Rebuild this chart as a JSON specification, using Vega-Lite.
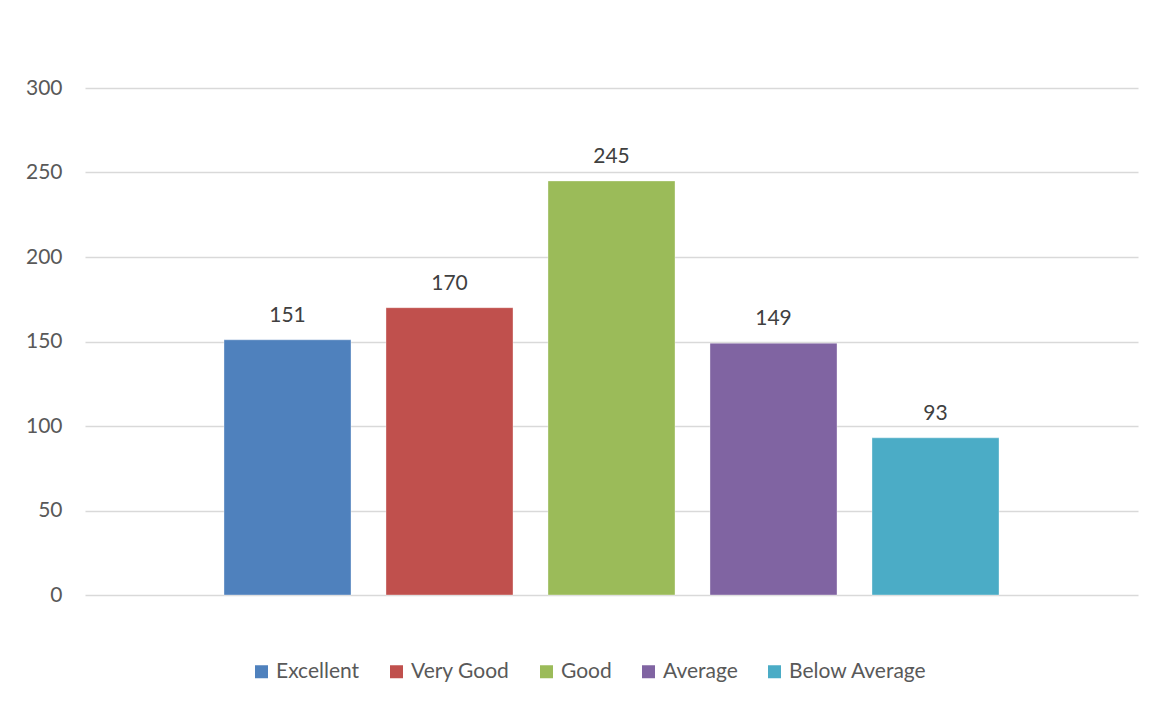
{
  "$schema": "https://vega.github.io/schema/vega-lite/v6.json",
  "width": 1053,
  "height": 507,
  "autosize": {"type": "none"},
  "padding": {"left": 85, "top": 88, "right": 24, "bottom": 109},
  "background": "white",
  "config": {
    "view": {"stroke": null},
    "font": "Lato",
    "axis": {"labelFont": "Lato", "labelColor": "#595959", "labelFontSize": 21},
    "legend": {"labelFont": "Lato", "labelColor": "#595959", "labelFontSize": 21}
  },
  "data": {
    "values": [
      {"rating": "Excellent", "count": 151},
      {"rating": "Very Good", "count": 170},
      {"rating": "Good", "count": 245},
      {"rating": "Average", "count": 149},
      {"rating": "Below Average", "count": 93}
    ]
  },
  "encoding": {
    "x": {
      "field": "rating",
      "type": "nominal",
      "sort": ["Excellent", "Very Good", "Good", "Average", "Below Average"],
      "scale": {"paddingInner": 0.216, "paddingOuter": 0.858},
      "axis": null
    },
    "y": {
      "field": "count",
      "type": "quantitative",
      "scale": {"domain": [0, 300], "nice": false},
      "axis": {
        "values": [0, 50, 100, 150, 200, 250, 300],
        "title": null,
        "domain": false,
        "ticks": false,
        "labelPadding": 23,
        "gridColor": "#D9D9D9",
        "gridWidth": 1.5,
        "grid": true
      }
    }
  },
  "layer": [
    {
      "mark": {"type": "bar", "strokeWidth": 1, "strokeOpacity": 0.35, "stroke": "white"},
      "encoding": {
        "color": {
          "field": "rating",
          "type": "nominal",
          "sort": ["Excellent", "Very Good", "Good", "Average", "Below Average"],
          "scale": {
            "domain": ["Excellent", "Very Good", "Good", "Average", "Below Average"],
            "range": ["#4F81BD", "#C0504D", "#9BBB59", "#8064A2", "#4BACC6"]
          },
          "legend": {
            "title": null,
            "orient": "none",
            "direction": "horizontal",
            "legendX": 166,
            "legendY": 573,
            "symbolType": "square",
            "symbolSize": 169,
            "symbolStrokeWidth": 0,
            "labelOffset": 4,
            "columnPadding": 26,
            "padding": 0
          }
        }
      }
    },
    {
      "mark": {"type": "text", "baseline": "alphabetic", "dy": -18, "fontSize": 21, "color": "#404040", "font": "Lato"},
      "encoding": {"text": {"field": "count", "type": "quantitative"}}
    }
  ]
}
